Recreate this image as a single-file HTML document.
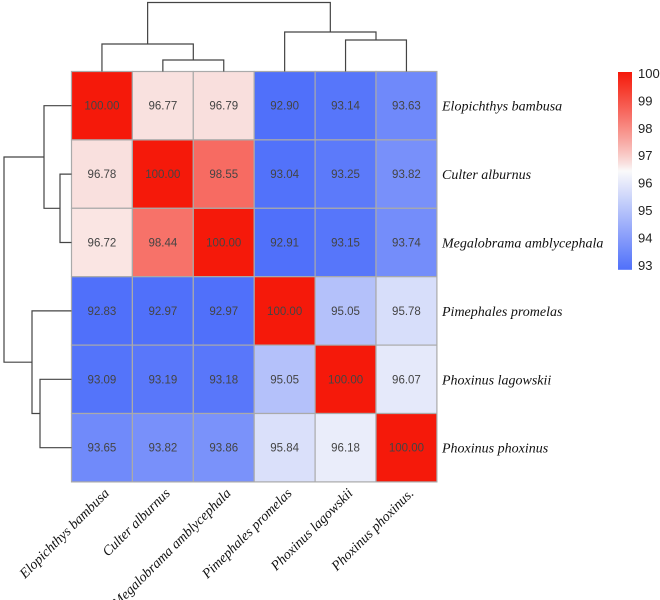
<!DOCTYPE html>
<html><head><meta charset="utf-8"><style>
body{margin:0;background:#fff}
svg{display:block}
</style></head><body>
<svg id="c" width="660" height="600" xmlns="http://www.w3.org/2000/svg"></svg>
<script>
const labels=["Elopichthys bambusa","Culter alburnus","Megalobrama amblycephala","Pimephales promelas","Phoxinus lagowskii","Phoxinus phoxinus"];
const colLabels=["Elopichthys bambusa","Culter alburnus","Megalobrama amblycephala","Pimephales promelas","Phoxinus lagowskii","Phoxinus phoxinus."];
const row0=[100.00,96.77,96.79,92.90,93.14,93.63];
const row1=[96.78,100.00,98.55,93.04,93.25,93.82];
const row2=[96.72,98.44,100.00,92.91,93.15,93.74];
const row3=[92.83,92.97,92.97,100.00,95.05,95.78];
const row4=[93.09,93.19,93.18,95.05,100.00,96.07];
const row5=[93.65,93.82,93.86,95.84,96.18,100.00];
const values=[row0,row1,row2,row3,row4,row5];
const legendTicks=[93,94,95,96,97,98,99,100];
const vmin=93,vmax=100,vmid=96.5;

const svg=document.getElementById('c');
const NS="http://www.w3.org/2000/svg";
function mk(t,a,p){const e=document.createElementNS(NS,t);for(const k in a)e.setAttribute(k,a[k]);(p||svg).appendChild(e);return e;}
const gx=71.5,gy=71.5,cw=60.9,ch=68.4;
const xC=i=>gx+cw*i, yR=i=>gy+ch*i;
const lo=[80,112,250],mid=[250,250,250],hi=[245,25,10];
function color(v){let a,b,t;if(v<=vmid){a=lo;b=mid;t=(v-vmin)/(vmid-vmin);}else{a=mid;b=hi;t=Math.pow((v-vmid)/(vmax-vmid),0.85);}t=Math.max(0,Math.min(1,t));return`rgb(${a.map((x,i)=>Math.round(x+(b[i]-x)*t)).join(',')})`;}

values.forEach((row,r)=>row.forEach((v,c)=>{
  const rc=mk('rect',{x:xC(c),y:yR(r),width:cw,height:ch,fill:color(v),stroke:'#aaa','stroke-width':1.2});
  
  
  const t=mk('text',{x:xC(c)+cw/2,y:yR(r)+ch/2+4,'text-anchor':'middle','font-family':'Liberation Sans, sans-serif','font-size':11.5,fill:'#444'});
  t.textContent=v.toFixed(2);
  
  
}));

labels.forEach((l,r)=>{
  const t=mk('text',{x:442,y:yR(r)+ch/2+5,'font-family':'Liberation Serif, serif','font-style':'italic','font-size':14,fill:'#111'});
  t.textContent=l;
  
  
});
colLabels.forEach((l,c)=>{
  const x=xC(c)+cw/2+8,y=494;
  const t=mk('text',{x:x,y:y,'text-anchor':'end','font-family':'Liberation Serif, serif','font-style':'italic','font-size':14,fill:'#111',transform:`rotate(-45 ${x} ${y})`});
  t.textContent=l;
  
  
});

// dendrograms
const st={fill:'none',stroke:'#444','stroke-width':1.2};
const cc=i=>xC(i)+cw/2, rcY=i=>yR(i)+ch/2;
function line(d,name){const p=mk('path',Object.assign({d:d},st));}
const a23=(cc(1)+cc(2))/2, aL=(cc(0)+a23)/2, b56=(cc(4)+cc(5))/2, bR=(cc(3)+b56)/2;
line(`M${cc(1)},${gy} V60 H${cc(2)} V${gy}`,'top-dendrogram');
line(`M${cc(0)},${gy} V44 H${a23} V60`,'top-dendrogram');
line(`M${cc(4)},${gy} V40 H${cc(5)} V${gy}`,'top-dendrogram');
line(`M${cc(3)},${gy} V32 H${b56} V40`,'top-dendrogram');
line(`M${aL},44 V2.5 H${bR} V32`,'top-dendrogram');
const r23=(rcY(1)+rcY(2))/2, rT=(rcY(0)+r23)/2, r56=(rcY(4)+rcY(5))/2, rB=(rcY(3)+r56)/2;
line(`M${gx},${rcY(1)} H60 V${rcY(2)} H${gx}`,'left-dendrogram');
line(`M${gx},${rcY(0)} H44 V${r23} H60`,'left-dendrogram');
line(`M${gx},${rcY(4)} H40 V${rcY(5)} H${gx}`,'left-dendrogram');
line(`M${gx},${rcY(3)} H32 V${r56} H40`,'left-dendrogram');
line(`M44,${rT} H4 V${rB} H32`,'left-dendrogram');

// colorbar
const defs=mk('defs',{});
const lg=mk('linearGradient',{id:'g',x1:0,y1:1,x2:0,y2:0},defs);
for(let i=0;i<=28;i++){const v=vmin+(vmax-vmin)*i/28;mk('stop',{offset:i/28,'stop-color':color(v)},lg);}
const ly=v=>73+(100-v)*27.4;
const cb=mk('rect',{x:618,y:ly(100)-1,width:14,height:ly(93)-ly(100)+6,fill:'url(#g)'});


legendTicks.forEach(v=>{
  const t=mk('text',{x:638,y:ly(v)+5,'font-family':'Liberation Sans, sans-serif','font-size':13,fill:'#222'});
  t.textContent=v;
  
  
});
</script>
</body></html>
